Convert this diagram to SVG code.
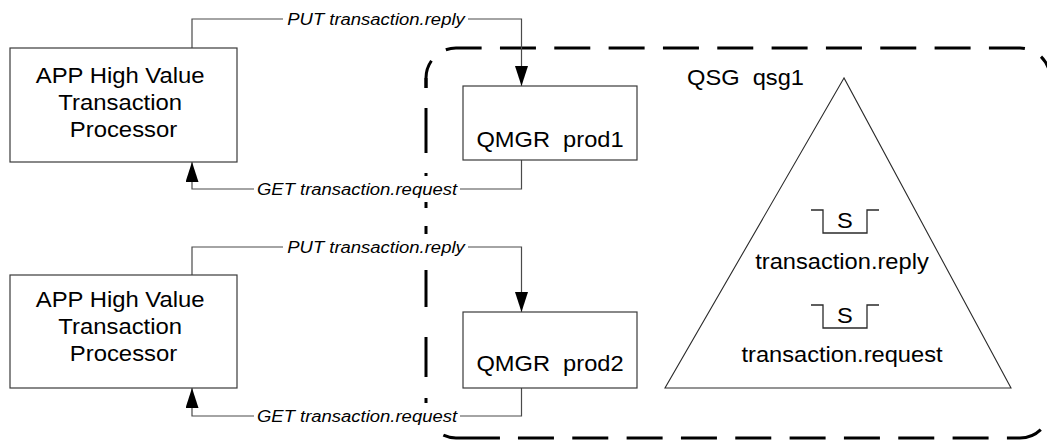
<svg xmlns="http://www.w3.org/2000/svg" width="1047" height="441" viewBox="0 0 1047 441">
  <style>
    .box { fill: #ffffff; stroke: #3a3a3a; stroke-width: 1.2; }
    .tri { fill: #ffffff; stroke: #2a2a2a; stroke-width: 1.1; }
    .sym { fill: none; stroke: #2a2a2a; stroke-width: 1.3; }
    .conn { fill: none; stroke: #4a4a4a; stroke-width: 1.2; }
    .grp { fill: none; stroke: #000000; stroke-width: 3; }
    .lblbg { fill: #ffffff; stroke: none; }
    .big { font-family: "Liberation Sans", Arial, sans-serif; font-size: 21.5px; fill: #000000; }
    .mid { text-anchor: middle; }
    .lbl { font-family: "Liberation Sans", Arial, sans-serif; font-size: 16.8px; font-style: italic; fill: #000000; text-anchor: middle; }
  </style>
  <defs>
    <marker id="arrow" viewBox="0 0 20 13" refX="20" refY="6.5" markerWidth="20" markerHeight="13" markerUnits="userSpaceOnUse" orient="auto">
      <path d="M0,0 L20,6.5 L0,13 Z" fill="#000000"/>
    </marker>
  </defs>

  <!-- queue-sharing group boundary (rounded, dashed) -->
  <g id="qsg-boundary">
    <path class="grp" d="M426,88 V78 A30,30 0 0 1 456,48 H1020 A30,30 0 0 1 1050,78 V120" stroke-dasharray="36 18.33" stroke-dashoffset="7.66"/>
    <path class="grp" d="M426,78 V408" stroke-dasharray="10 20 45 20 35 18 32 12 37 30 40 21 22 200"/>
    <path class="grp" d="M426,408 A30,30 0 0 0 456,438 H1020 A30,30 0 0 0 1050,408" stroke-dasharray="0 34 57 18 36 18.33 36 18.33 36 18.33 36 18.33 36 18.33 36 18.33 36 18.33 36 18.33 36 18.33 36 18.33 36 300"/>
  </g>

  <!-- connectors -->
  <g id="connectors">
    <path class="conn" d="M192,48 V19 H521.5 V86" marker-end="url(#arrow)"/>
    <path class="conn" d="M521.5,160 V189 H192 V162" marker-end="url(#arrow)"/>
    <path class="conn" d="M192,275 V247 H521.5 V312" marker-end="url(#arrow)"/>
    <path class="conn" d="M521.5,388 V416 H192 V388" marker-end="url(#arrow)"/>

    <rect class="lblbg" x="283" y="6" width="185" height="26"/>
    <text class="lbl" transform="translate(376 25) scale(1.1 1)">PUT transaction.reply</text>

    <rect class="lblbg" x="254" y="176" width="206" height="26"/>
    <text class="lbl" transform="translate(357 195) scale(1.1 1)">GET transaction.request</text>

    <rect class="lblbg" x="283" y="234" width="185" height="26"/>
    <text class="lbl" transform="translate(376 253) scale(1.1 1)">PUT transaction.reply</text>

    <rect class="lblbg" x="254" y="403" width="206" height="26"/>
    <text class="lbl" transform="translate(357 422) scale(1.1 1)">GET transaction.request</text>
  </g>

  <!-- application instance 1 -->
  <g id="app1">
    <rect class="box" x="10" y="48" width="227" height="114"/>
    <text class="big mid" transform="translate(123.5 83) scale(1.11 1)">
      <tspan x="0" y="0">APP High Value</tspan>
      <tspan x="0" y="27">Transaction</tspan>
      <tspan x="0" y="54">Processor</tspan>
    </text>
  </g>

  <!-- application instance 2 -->
  <g id="app2">
    <rect class="box" x="10" y="275" width="227" height="113"/>
    <text class="big mid" transform="translate(123.5 307) scale(1.11 1)">
      <tspan x="0" y="0">APP High Value</tspan>
      <tspan x="0" y="27">Transaction</tspan>
      <tspan x="0" y="54">Processor</tspan>
    </text>
  </g>

  <!-- queue manager prod1 -->
  <g id="qmgr-prod1">
    <rect class="box" x="463" y="86" width="174" height="74"/>
    <text class="big mid" transform="translate(550 146.5) scale(1.1 1)" xml:space="preserve">QMGR  prod1</text>
  </g>

  <!-- queue manager prod2 -->
  <g id="qmgr-prod2">
    <rect class="box" x="463" y="312" width="174" height="76"/>
    <text class="big mid" transform="translate(550 370.5) scale(1.1 1)" xml:space="preserve">QMGR  prod2</text>
  </g>

  <!-- group name -->
  <g id="qsg-label">
    <text class="big" transform="translate(687 85) scale(1.1 1)" xml:space="preserve">QSG  qsg1</text>
  </g>

  <!-- shared queues (coupling facility) -->
  <g id="shared-queues">
    <polygon class="tri" points="844,78 665,388 1011,388"/>
    <path class="sym" d="M811,210 H823 V233 H867 V210 H879"/>
    <text class="big mid" transform="translate(845 228) scale(1.1 1)">S</text>
    <text class="big mid" transform="translate(842 268.5) scale(1.1 1)">transaction.reply</text>
    <path class="sym" d="M811,305 H823 V328 H867 V305 H879"/>
    <text class="big mid" transform="translate(845 323) scale(1.1 1)">S</text>
    <text class="big mid" transform="translate(842 362) scale(1.1 1)">transaction.request</text>
  </g>
</svg>
